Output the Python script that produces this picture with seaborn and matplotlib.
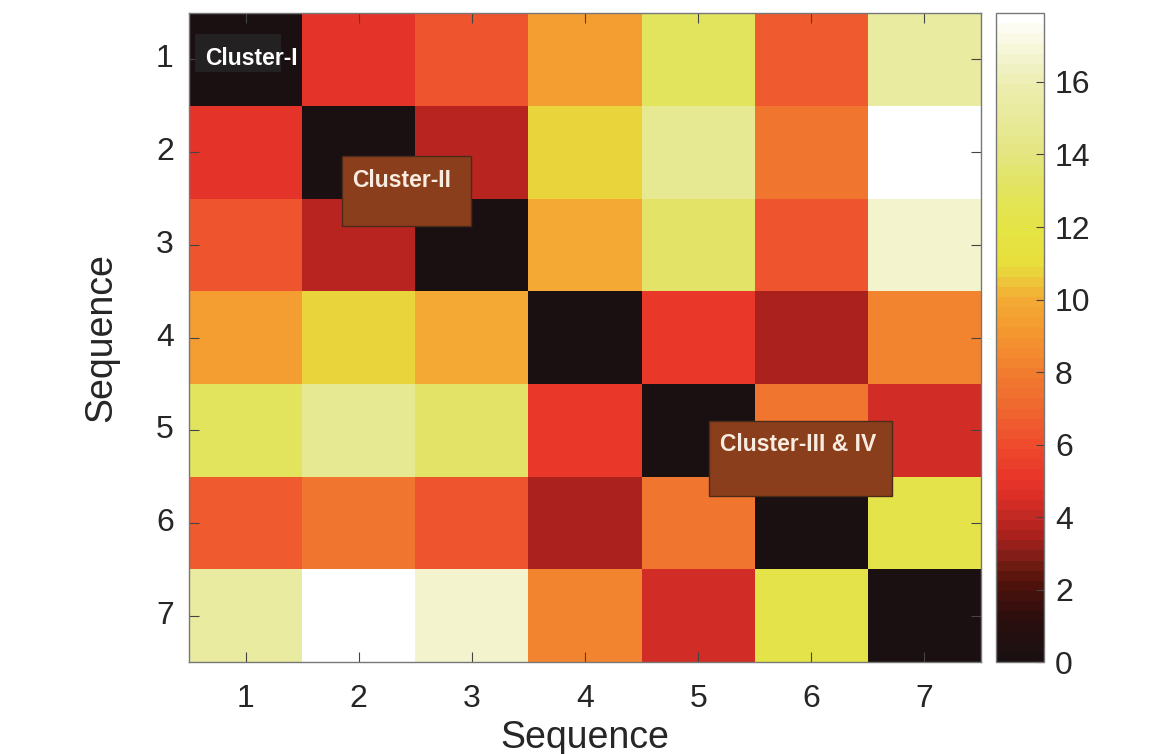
import numpy as np
import pandas as pd
import seaborn as sns
import matplotlib.pyplot as plt
from matplotlib.colors import LinearSegmentedColormap
from matplotlib.patches import Rectangle

# Sequence labels
labels = ['1', '2', '3', '4', '5', '6', '7']

# Distance matrix rows
row1 = [0.0, 4.8, 6.2, 9.3, 13.0, 6.5, 15.3]
row2 = [4.8, 0.0, 3.9, 10.7, 14.6, 7.7, 17.9]
row3 = [6.2, 3.9, 0.0, 9.9, 13.2, 6.3, 16.6]
row4 = [9.3, 10.7, 9.9, 0.0, 5.2, 3.4, 8.3]
row5 = [13.0, 14.6, 13.2, 5.2, 0.0, 7.8, 4.3]
row6 = [6.5, 7.7, 6.3, 3.4, 7.8, 0.0, 12.3]
row7 = [15.3, 17.9, 16.6, 8.3, 4.3, 12.3, 0.0]

cbar_ticks = [0, 2, 4, 6, 8, 10, 12, 14, 16]

# Cluster annotations: text, box (x0, y0, x1, y1), text anchor, box colour
cluster_names = ['Cluster-I', 'Cluster-II', 'Cluster-III & IV']
cluster_boxes = [(0.05, 0.23, 0.81, 0.64), (1.35, 1.54, 2.49, 2.30), (4.60, 4.40, 6.21, 5.21)]
cluster_text_pos = [(0.14, 0.49), (1.44, 1.81), (4.69, 4.65)]
cluster_colors = ['#232121', '#8b3e1b', '#8b3e1b']
cluster_edges = ['none', '#4a2a18', '#4a2a18']
cluster_text_colors = ['white', '#f8ece0', '#f8ece0']

df = pd.DataFrame([row1, row2, row3, row4, row5, row6, row7], index=labels, columns=labels)

# MATLAB-like "hot" variant seen in the colorbar
stops = [0, 1, 2, 2.5, 3, 3.5, 4, 4.5, 5, 6, 7, 8, 9, 10, 10.5, 11, 12, 13, 14, 15, 16, 17, 17.9]
cols = ['#1a1012', '#2a0f0e', '#4d120c', '#6a1a10', '#8e1f1c', '#b0221f', '#c42a24', '#dc2e26',
        '#e8352a', '#ee4d2d', '#ef682f', '#f17d2f', '#f4952f', '#f3aa33', '#eec43a', '#e8df3c',
        '#e5e446', '#e2e45a', '#e4e57e', '#e8ea98', '#ecedaf', '#f5f5d6', '#ffffff']
vmax = 17.9
cmap = LinearSegmentedColormap.from_list('hotish', [(s / vmax, c) for s, c in zip(stops, cols)], N=64)

plt.rcParams['font.family'] = ['Liberation Sans', 'DejaVu Sans']
plt.rcParams['text.color'] = '#262626'
plt.rcParams['axes.labelcolor'] = '#262626'
plt.rcParams['xtick.color'] = '#262626'
plt.rcParams['ytick.color'] = '#262626'

fig = plt.figure(figsize=(11.64, 7.54), dpi=100)
ax = fig.add_axes([0.1624, 0.122, 0.6804, 0.8606])
cax = fig.add_axes([0.8557, 0.122, 0.0412, 0.8606])

sns.heatmap(df, cmap=cmap, vmin=0, vmax=vmax, ax=ax, cbar_ax=cax, square=False,
            cbar_kws={'ticks': cbar_ticks})

ax.set_xlabel('Sequence', fontsize=27, labelpad=4)
ax.set_ylabel('Sequence', fontsize=27, labelpad=26)
ax.tick_params(axis='both', direction='in', length=7, width=0.8, labelsize=23,
               top=True, right=True, color='#444444')
ax.tick_params(axis='x', pad=16)
ax.tick_params(axis='y', pad=11, labelrotation=0)
for sp in ax.spines.values():
    sp.set_visible(True)
    sp.set_color('#777777')
    sp.set_linewidth(1.0)

cax.tick_params(direction='in', length=6, width=0.8, labelsize=23, color='#444444', pad=8)
cbar = ax.collections[0].colorbar
cbar.outline.set_visible(True)
cbar.outline.set_edgecolor('#777777')
cbar.outline.set_linewidth(1.0)

for name, (x0, y0, x1, y1), (tx, ty), fc, ec, tc in zip(cluster_names, cluster_boxes, cluster_text_pos,
                                                     cluster_colors, cluster_edges, cluster_text_colors):
    ax.add_patch(Rectangle((x0, y0), x1 - x0, y1 - y0, facecolor=fc, edgecolor=ec, linewidth=1.0, zorder=3))
    ax.text(tx, ty, name, color=tc, fontsize=16.5, fontweight='bold', ha='left', va='center', zorder=4)

plt.savefig('out.png', dpi=100)
